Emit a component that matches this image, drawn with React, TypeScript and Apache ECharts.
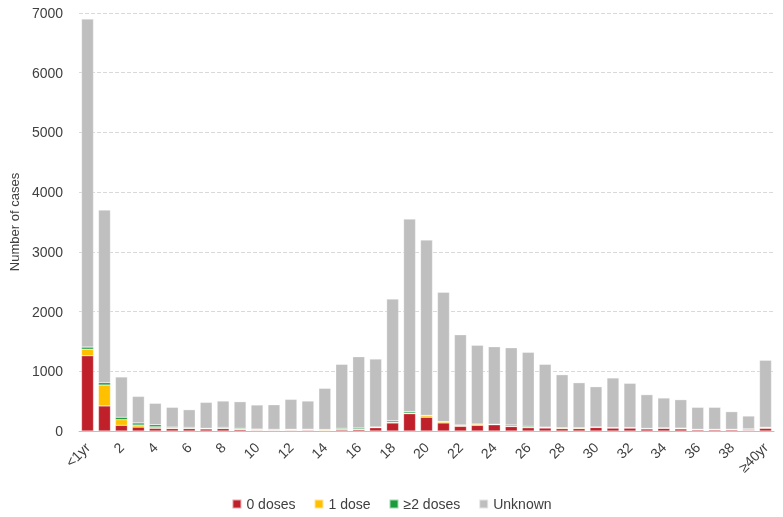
import React, { useEffect, useRef } from "react";
import * as echarts from "echarts";

const categories = [
  "<1yr", "1", "2", "3", "4", "5", "6", "7", "8", "9", "10",
  "11", "12", "13", "14", "15", "16", "17", "18", "19", "20",
  "21", "22", "23", "24", "25", "26", "27", "28", "29", "30",
  "31", "32", "33", "34", "35", "36", "37", "38", "39", "≥40yr",
];

const zeroDoses = [
  1260, 420, 95, 65, 45, 40, 40, 35, 40, 25, 12,
  12, 12, 15, 10, 20, 25, 55, 135, 290, 230,
  135, 78, 95, 105, 75, 55, 50, 40, 40, 60,
  50, 50, 35, 45, 35, 20, 20, 20, 15, 45,
];

const oneDose = [
  110, 350, 95, 35, 25, 10, 5, 5, 5, 5, 15,
  5, 12, 5, 12, 5, 5, 8, 10, 10, 25,
  20, 20, 20, 5, 5, 5, 12, 12, 12, 5,
  5, 5, 5, 5, 10, 5, 5, 5, 5, 15,
];

const twoPlusDoses = [
  35, 40, 40, 35, 35, 15, 15, 5, 15, 15, 5,
  10, 5, 10, 3, 20, 20, 5, 25, 25, 5,
  3, 3, 3, 5, 20, 20, 3, 3, 3, 3,
  3, 3, 3, 3, 3, 3, 3, 3, 15, 3,
];

const totals = [
  6900, 3700, 905, 580, 464, 397, 357, 480, 502, 491, 436,
  440, 530, 502, 715, 1117, 1245, 1206, 2211, 3550, 3200,
  2323, 1613, 1435, 1412, 1395, 1318, 1117, 943, 809, 742,
  888, 799, 609, 553, 525, 397, 397, 324, 251, 1184,
];

const unknown = totals.map(
  (t, i) => t - zeroDoses[i] - oneDose[i] - twoPlusDoses[i]
);

const yTicks = [0, 1000, 2000, 3000, 4000, 5000, 6000, 7000];

const FONT = "Liberation Sans";

export default function App() {
  const ref = useRef<HTMLDivElement>(null);
  useEffect(() => {
    if (!ref.current) return;
    const chart = echarts.init(ref.current, undefined, { renderer: "svg" });
    const seriesDef = [
      { name: "0 doses", data: zeroDoses, color: "#C0202A" },
      { name: "1 dose", data: oneDose, color: "#FFC000" },
      { name: "≥2 doses", data: twoPlusDoses, color: "#179B3B" },
      { name: "Unknown", data: unknown, color: "#BFBFBF" },
    ];
    chart.setOption({
      animation: false,
      textStyle: { fontFamily: FONT },
      grid: { left: 76, right: 9, top: 13, bottom: 86, containLabel: false },
      legend: {
        bottom: 1,
        left: "center",
        itemWidth: 9,
        itemHeight: 9,
        itemGap: 18,
        icon: "rect",
        textStyle: { fontFamily: FONT, fontSize: 14, color: "#404040" },
        data: seriesDef.map((s) => s.name),
      },
      xAxis: {
        type: "category",
        data: categories,
        axisLine: { lineStyle: { color: "#BFBFBF", width: 1 } },
        axisTick: { show: false },
        axisLabel: {
          interval: 1,
          rotate: 45,
          fontFamily: FONT,
          fontSize: 14,
          color: "#404040",
          margin: 14,
        },
      },
      yAxis: {
        type: "value",
        min: yTicks[0],
        max: yTicks[yTicks.length - 1],
        interval: 1000,
        name: "Number of cases",
        nameLocation: "middle",
        nameGap: 53,
        nameTextStyle: { fontFamily: FONT, fontSize: 13, color: "#404040" },
        axisLine: { show: false },
        axisTick: { show: false },
        axisLabel: {
          fontFamily: FONT,
          fontSize: 14,
          color: "#404040",
          margin: 16,
          formatter: (v: number) => String(v),
        },
        splitLine: { lineStyle: { color: "#D9D9D9", type: "dashed", width: 1 } },
      },
      series: seriesDef.map((s) => ({
        name: s.name,
        type: "bar",
        stack: "total",
        data: s.data,
        barCategoryGap: "29%",
        itemStyle: { color: s.color, borderColor: "rgba(255,255,255,0.6)", borderWidth: 0.5 },
      })),
    });
    return () => chart.dispose();
  }, []);
  return (
    <div
      ref={ref}
      style={{ position: "fixed", left: 0, top: 0, width: 783, height: 517 }}
    />
  );
}
